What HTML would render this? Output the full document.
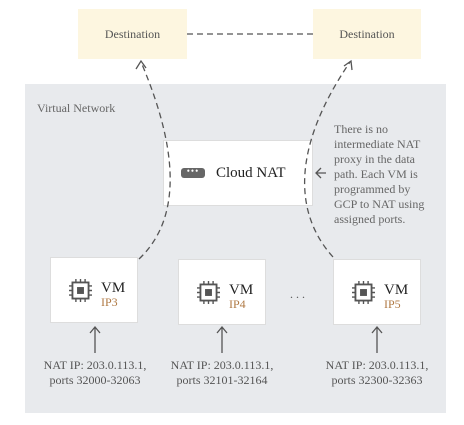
<!DOCTYPE html>
<html><head><style>
body{margin:0;width:464px;height:425px;background:#fff;font-family:"Liberation Serif",serif;position:relative;overflow:hidden}
.a{position:absolute}
.dest{background:#fdf6e0;color:#555;font-size:12px;display:flex;align-items:center;justify-content:center}
.box{background:#fff;border:1px solid #ddd;box-sizing:border-box}
.lbl{font-size:12px;color:#555;text-align:center;line-height:15px;white-space:nowrap}
</style></head><body>
<div class="a dest" style="left:78px;top:9px;width:109px;height:50px">Destination</div>
<div class="a dest" style="left:313px;top:9px;width:108px;height:50px">Destination</div>
<div class="a" style="left:25px;top:84px;width:421px;height:329px;background:#e8eaed"></div>
<div class="a" style="left:37px;top:101px;font-size:12px;color:#666">Virtual Network</div>
<div class="a box" style="left:163px;top:140px;width:150px;height:66px;display:flex;align-items:center;padding-left:17px">
<div style="width:24px;height:10px;background:#666;border-radius:3px;color:#fff;font-size:9px;line-height:6px;text-align:center;letter-spacing:1px">•••</div>
<span style="margin-left:11px;font-size:15px;color:#222">Cloud NAT</span></div>
<div class="a" style="left:334px;top:122px;font-size:12px;color:#666;line-height:15px;white-space:nowrap">There is no<br>intermediate NAT<br>proxy in the data<br>path. Each VM is<br>programmed by<br>GCP to NAT using<br>assigned ports.</div>
<svg class="a" style="left:0;top:0" width="464" height="425">
<g fill="none" stroke="#555" stroke-width="1.3">
<line x1="187" y1="34" x2="313" y2="34" stroke-dasharray="6,4"/>
<path d="M139 259 C175 225 185 165 141 62" stroke-dasharray="6,4"/>
<path d="M333 257 C295 215 290 150 350 62" stroke-dasharray="6,4"/>
<path d="M136 69 L141 61 L146 68"/>
<path d="M344 66 L351 61 L352 70"/>
<path d="M326 173 H316 M321 168 L316 173 L321 178"/>
<path d="M95 353 V328 M90 333 L95 327 L100 333"/>
<path d="M222 353 V328 M217 333 L222 327 L227 333"/>
<path d="M377 353 V328 M372 333 L377 327 L382 333"/>
</g>
<text x="290" y="298" font-size="12" fill="#555" font-family="Liberation Serif">. . .</text>
</svg>
<div class="a box" style="left:50px;top:257px;width:88px;height:66px"></div>
<div class="a box" style="left:178px;top:259px;width:88px;height:66px"></div>
<div class="a box" style="left:333px;top:259px;width:88px;height:66px"></div>
<svg class="a" style="left:0;top:0" width="464" height="425">
<defs><g id="chip" fill="none" stroke="#555" stroke-width="1.6">
<rect x="3" y="3" width="14" height="14"/><rect x="7" y="7" width="6" height="6" fill="#555" stroke="none"/>
<path d="M6 0v3M10 0v3M14 0v3M6 17v3M10 17v3M14 17v3M0 6h3M0 10h3M0 14h3M17 6h3M17 10h3M17 14h3" stroke-width="1.2"/></g></defs>
<use href="#chip" transform="translate(69,279) scale(1.15)"/><use href="#chip" transform="translate(197,281) scale(1.15)"/><use href="#chip" transform="translate(352,281) scale(1.15)"/>
<g font-family="Liberation Serif"><text x="101" y="292" font-size="15" fill="#222">VM</text><text x="101" y="306" font-size="12" fill="#b07a45">IP3</text>
<text x="229" y="294" font-size="15" fill="#222">VM</text><text x="229" y="308" font-size="12" fill="#b07a45">IP4</text>
<text x="384" y="294" font-size="15" fill="#222">VM</text><text x="384" y="308" font-size="12" fill="#b07a45">IP5</text></g>
</svg>
<div class="a lbl" style="left:35px;top:358px;width:120px">NAT IP: 203.0.113.1,<br>ports 32000-32063</div>
<div class="a lbl" style="left:162px;top:358px;width:120px">NAT IP: 203.0.113.1,<br>ports 32101-32164</div>
<div class="a lbl" style="left:317px;top:358px;width:120px">NAT IP: 203.0.113.1,<br>ports 32300-32363</div>
</body></html>
